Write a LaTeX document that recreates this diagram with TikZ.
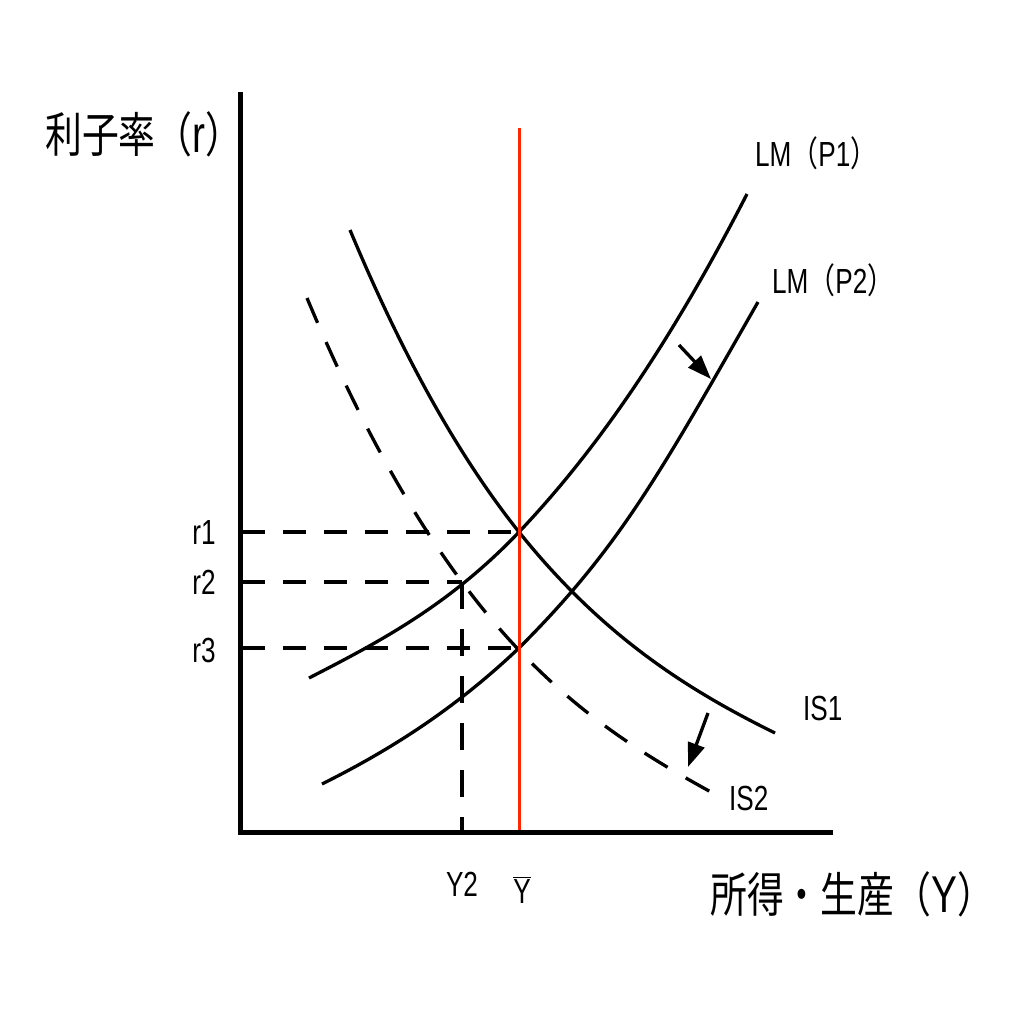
\documentclass[tikz,border=0pt]{standalone}
\usepackage{fontspec}
\setmainfont{Liberation Sans}[FakeStretch=0.75]
\newfontfamily\cjk{Noto Sans CJK JP}[FakeStretch=0.77]
\usetikzlibrary{arrows.meta}
\definecolor{eqred}{RGB}{255,40,0}
\begin{document}
\begin{tikzpicture}[x=1bp,y=-1bp,
  curve/.style={line width=3.3bp,black},
  dashline/.style={line width=3.3bp,dash pattern=on 23bp off 18bp},
  vdash/.style={line width=3.3bp,dash pattern=on 27bp off 20bp},
  isdash/.style={dash pattern=on 27bp off 21bp},
  axisline/.style={line width=5bp},
  lbl/.style={inner sep=0pt,font=\fontsize{35}{40}\selectfont},
  axlbl/.style={inner sep=0pt,font=\fontsize{48}{52}\selectfont},
  shiftarrow/.style={line width=3.3bp,-{Triangle[length=24bp,width=17bp]}}]
\useasboundingbox (0,0) rectangle (1012,1012);

% key points
\coordinate (ytop) at (240,92);
\coordinate (ybot) at (240,834.5);
\coordinate (xstart) at (237.5,832);
\coordinate (xend) at (833,832);
\coordinate (redtop) at (519,128);
\coordinate (redbot) at (519,830);
\coordinate (E1) at (519,532);
\coordinate (E2) at (462,582);
\coordinate (E3) at (519,648);
\coordinate (t1) at (242,532);
\coordinate (t2) at (242,582);
\coordinate (t3) at (242,648);
\coordinate (Y2b) at (462,830);

% curve end points
\coordinate (lm1a) at (309,678);
\coordinate (lm1b) at (747,194);
\coordinate (lm2a) at (322,784);
\coordinate (lm2b) at (758,302);
\coordinate (is1a) at (350,230);
\coordinate (is1b) at (775,733);
\coordinate (is2a) at (307,298);
\coordinate (is2b) at (720,797);

% dashed guide lines
\draw[dashline] (t1) -- (E1);
\draw[dashline] (t2) -- (E2);
\draw[dashline] (t3) -- (E3);
\draw[vdash] (E2) -- (Y2b);

% curves
\draw[curve] (is1a) .. controls (406,364) and (463,462) .. (E1)
  .. controls (604,638) and (690,691) .. (is1b);
\draw[curve,isdash] (is2a) .. controls (359,422) and (410,512) .. (E2)
  .. controls (548,698) and (634,750) .. (is2b);
\draw[curve] (lm1a) .. controls (379,642) and (449,605.5) .. (E1)
  .. controls (596,451) and (670,344) .. (lm1b);
\draw[curve] (lm2a) .. controls (388,751) and (453,710.7) .. (E3)
  .. controls (619,548) and (658,477) .. (lm2b);

% red line
\draw[eqred,line width=3bp] (redtop) -- (redbot);

% axes
\draw[axisline] (ytop) -- (ybot);
\draw[axisline] (xstart) -- (xend);

% shift arrows
\coordinate (a1s) at (679,345);
\coordinate (a1e) at (711,379);
\coordinate (a2s) at (708,713);
\coordinate (a2e) at (688,767);
\draw[shiftarrow] (a1s) -- (a1e);
\draw[shiftarrow] (a2s) -- (a2e);

% labels
\node[axlbl,anchor=base west] (ylab) at (45,152) {\cjk 利子率（{\rmfamily\fontsize{52}{56}\selectfont r}）};
\node[axlbl,anchor=base west] (xlab) at (710,912) {\cjk 所得・生産（{\rmfamily\fontsize{52}{56}\selectfont Y}）};
\node[lbl,anchor=base west] (lm1) at (755,166) {LM{\cjk （}P1{\cjk ）}};
\node[lbl,anchor=base west] (lm2) at (772,293) {LM{\cjk （}P2{\cjk ）}};
\node[lbl,anchor=base west] (is1) at (803,720) {IS1};
\node[lbl,anchor=base west] (is2) at (729,810) {IS2};
\node[lbl,anchor=base] (r1) at (204,544) {r1};
\node[lbl,anchor=base] (r2) at (204,594) {r2};
\node[lbl,anchor=base] (r3) at (204,662) {r3};
\node[lbl,anchor=base] (y2) at (462,896) {Y2};
\node[lbl,anchor=base] (ybar) at (522,903) {$\overline{\mbox{Y}}$};
\end{tikzpicture}
\end{document}
